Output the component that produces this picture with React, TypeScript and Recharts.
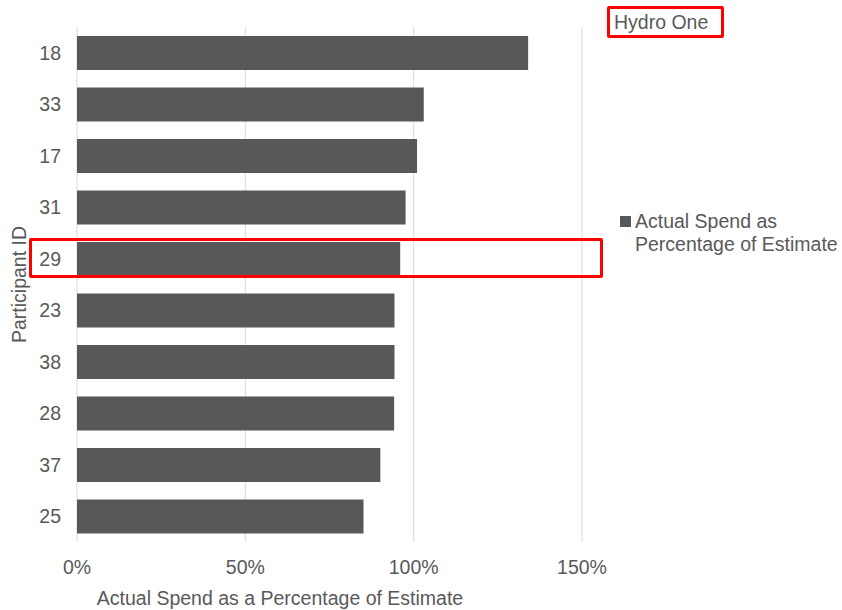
import React from 'react';
import { BarChart, Bar, XAxis, YAxis, CartesianGrid, Legend } from 'recharts';

const participants = ['18', '33', '17', '31', '29', '23', '38', '28', '37', '25'];
const spendPct = [1.34, 1.03, 1.01, 0.976, 0.96, 0.943, 0.943, 0.942, 0.901, 0.851];
const xTicks = [0, 0.5, 1, 1.5];
const seriesName = 'Actual Spend as Percentage of Estimate';
const xTitle = 'Actual Spend as a Percentage of Estimate';
const yTitle = 'Participant ID';
const highlightLabel = 'Hydro One';

const data = participants.map((p, i) => ({ id: p, value: spendPct[i] }));

const FONT = '"Liberation Sans", Arial, sans-serif';
const TXT = '#595959';
const BAR = '#58585a';
const FS = 19.5;

const LegendContent = () => (
  <div style={{ display: 'flex', alignItems: 'flex-start', fontFamily: FONT, fontSize: FS, color: TXT, lineHeight: '23px' }}>
    <span style={{ width: 11, height: 11, background: BAR, marginTop: 6, marginRight: 4, flexShrink: 0, display: 'inline-block' }} />
    <span style={{ width: 210 }}>{seriesName}</span>
  </div>
);

export default function App() {
  return (
    <div style={{ position: 'absolute', left: 0, top: 0, width: 842, height: 610, background: '#fff' }}>
      <BarChart
        width={842}
        height={610}
        data={data}
        layout="vertical"
        margin={{ top: 27, right: 38, bottom: 0, left: 0 }}
        barSize={34}
      >
        <CartesianGrid horizontal={false} stroke="#d9d9d9" strokeWidth={1} />
        <XAxis
          type="number"
          domain={[0, 1.5]}
          ticks={xTicks}
          tickFormatter={(v: number) => `${Math.round(v * 100)}%`}
          axisLine={false}
          tickLine={false}
          tickMargin={12}
          height={68}
          tick={{ fill: TXT, fontSize: FS, fontFamily: FONT }}
          label={{
            content: () => (
              <text x={280} y={605} textAnchor="middle" fill={TXT} fontSize={FS} fontFamily={FONT}>
                {xTitle}
              </text>
            ),
          }}
        />
        <YAxis
          type="category"
          dataKey="id"
          width={77}
          axisLine={false}
          tickLine={false}
          tickMargin={10}
          tick={{ fill: TXT, fontSize: FS, fontFamily: FONT }}
          label={{
            content: (props: any) => {
              const vb = props.viewBox || {};
              const cy = (vb.y ?? 27) + (vb.height ?? 515) / 2;
              return (
                <text
                  x={26}
                  y={cy}
                  transform={`rotate(-90, 26, ${cy})`}
                  textAnchor="middle"
                  fill={TXT}
                  fontSize={FS}
                  fontFamily={FONT}
                >
                  {yTitle}
                </text>
              );
            },
          }}
        />
        <Legend
          layout="vertical"
          align="right"
          verticalAlign="top"
          content={<LegendContent />}
          wrapperStyle={{ left: 620, top: 210, width: 222, right: 'auto' }}
        />
        <Bar dataKey="value" name={seriesName} fill={BAR} isAnimationActive={false} />
      </BarChart>
      <div
        style={{
          position: 'absolute',
          left: 607,
          top: 6,
          width: 117,
          height: 32,
          boxSizing: 'border-box',
          border: '3px solid #ff0000',
          borderRadius: 2,
          fontFamily: FONT,
          fontSize: FS,
          color: TXT,
          lineHeight: '26px',
          paddingLeft: 4,
        }}
      >
        {highlightLabel}
      </div>
      <div
        style={{
          position: 'absolute',
          left: 29,
          top: 238,
          width: 574,
          height: 40,
          boxSizing: 'border-box',
          border: '3px solid #ff0000',
          borderRadius: 2,
        }}
      />
    </div>
  );
}
